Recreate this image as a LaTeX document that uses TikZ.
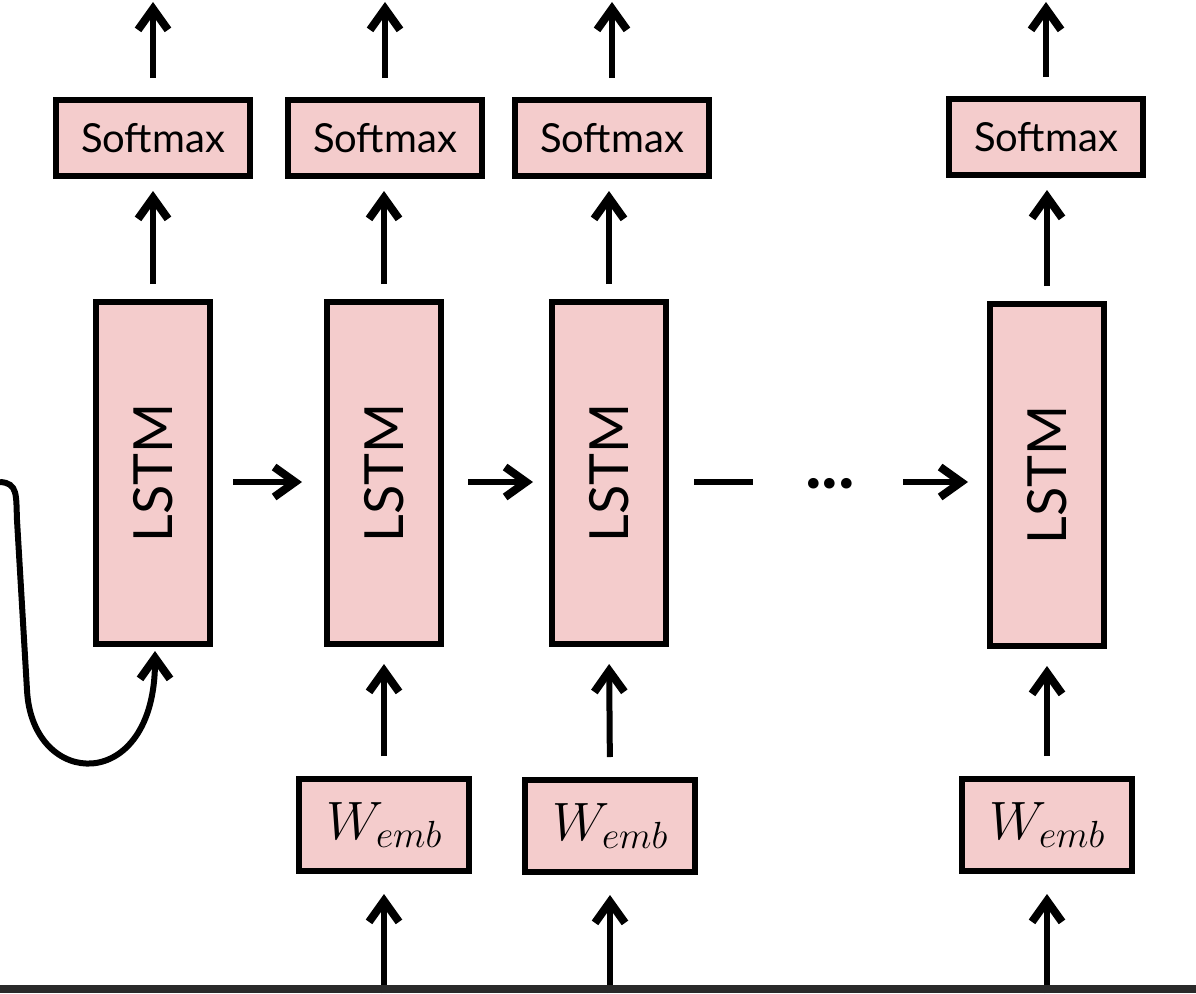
\RequirePackage{fix-cm}
\documentclass[tikz,border=0pt]{standalone}
\usepackage{amsmath, amssymb}
\usepackage{xcolor}
\usepackage{fontspec}
\usetikzlibrary{arrows.meta}
\newfontfamily\gill{Lato}
\definecolor{cellpink}{RGB}{244,204,204}
\definecolor{bandgray}{RGB}{42,42,42}
\tikzset{
  box/.style={draw, line width=6pt, fill=cellpink, inner sep=0pt},
  smbox/.style={box, minimum width=194pt, minimum height=76pt,
    font=\gill\fontsize{40}{48}\selectfont},
  lstmbox/.style={box, minimum width=114pt, minimum height=342pt,
    font=\gill\fontsize{54}{60}\selectfont},
  embbox/.style={box, minimum width=170pt, minimum height=92pt,
    font=\fontsize{54}{64}\selectfont},
  arr/.style={-{Straight Barb[length=21pt,width=30pt,line width=8pt 0]}, line width=6pt}
}

\begin{document}
\begin{tikzpicture}[x=1pt, y=-1pt]
 \useasboundingbox (0,0) rectangle (1196,993);
 % softmax layer
 \node[smbox] (sm1) at (153,138) {Softmax};
 \node[smbox] (sm2) at (385,138) {Softmax};
 \node[smbox] (sm3) at (612,138) {Softmax};
 \node[smbox] (sm4) at (1046,137) {Softmax};
 % lstm cells
 \node[lstmbox] (lstm1) at (153,473) {\rotatebox{90}{LSTM}};
 \node[lstmbox] (lstm2) at (384,473) {\rotatebox{90}{LSTM}};
 \node[lstmbox] (lstm3) at (609,473) {\rotatebox{90}{LSTM}};
 \node[lstmbox] (lstm4) at (1047,475) {\rotatebox{90}{LSTM}};
 % embeddings
 \node[embbox] (emb2) at (384,825) {$W_{emb}$};
 \node[embbox] (emb3) at (610,826) {$W_{emb}$};
 \node[embbox] (emb4) at (1047,825) {$W_{emb}$};
 \node[inner sep=0pt, font=\gill\bfseries\fontsize{70}{70}\selectfont]
   (dots) at (830,484) {...};
 \coordinate (out1) at (153,2);
 \coordinate (out2) at (385,2);
 \coordinate (out3) at (612,2);
 \coordinate (out4) at (1046,2);
 \coordinate (in2) at (384,993);
 \coordinate (in3) at (610,993);
 \coordinate (in4) at (1047,993);
 \coordinate (loop) at (0,482);
 % outputs
 \draw[arr, shorten <=19pt] (sm1.north) -- (out1);
 \draw[arr, shorten <=19pt] (sm2.north) -- (out2);
 \draw[arr, shorten <=19pt] (sm3.north) -- (out3);
 \draw[arr, shorten <=19pt] (sm4.north) -- (out4);
 \draw[arr, shorten <=15pt, shorten >=12pt] (lstm1.north) -- (sm1.south -| lstm1);
 \draw[arr, shorten <=15pt, shorten >=12pt] (lstm2.north) -- (sm2.south -| lstm2);
 \draw[arr, shorten <=15pt, shorten >=12pt] (lstm3.north) -- (sm3.south -| lstm3);
 \draw[arr, shorten <=15pt, shorten >=12pt] (lstm4.north) -- (sm4.south -| lstm4);
 % recurrence
 \draw[arr, shorten <=20pt, shorten >=22pt] ([yshift=-9pt]lstm1.east) -- ([yshift=-9pt]lstm2.west);
 \draw[arr, shorten <=24pt, shorten >=16pt] ([yshift=-9pt]lstm2.east) -- ([yshift=-9pt]lstm3.west);
 \draw[line width=6pt, shorten <=25pt, shorten >=52pt] ([yshift=-9pt]lstm3.east) -- (dots.west |- 0,482);
 \draw[arr, shorten <=48pt, shorten >=19pt] (dots.east |- 0,482) -- ([yshift=-7pt]lstm4.west);
 % inputs
 \draw[arr, shorten <=20pt, shorten >=17pt] (emb2.north) -- (lstm2.south);
 \draw[arr, shorten <=20pt, shorten >=17pt] (emb3.north) -- (lstm3.south);
 \draw[arr, shorten <=20pt, shorten >=17pt] (emb4.north) -- (lstm4.south);
 \draw[arr, shorten >=20pt] (in2) -- (emb2.south);
 \draw[arr, shorten >=20pt] (in3) -- (emb3.south);
 \draw[arr, shorten >=20pt] (in4) -- (emb4.south);
 \draw[arr, shorten >=4pt] (loop) .. controls (18,483) and (16,495) .. (17,520)
   -- (27,690) .. controls (32,790) and (155,795) .. ([xshift=2pt]lstm1.south);
 \fill[bandgray] (0,985) rectangle (1196,993);
\end{tikzpicture}
\end{document}
